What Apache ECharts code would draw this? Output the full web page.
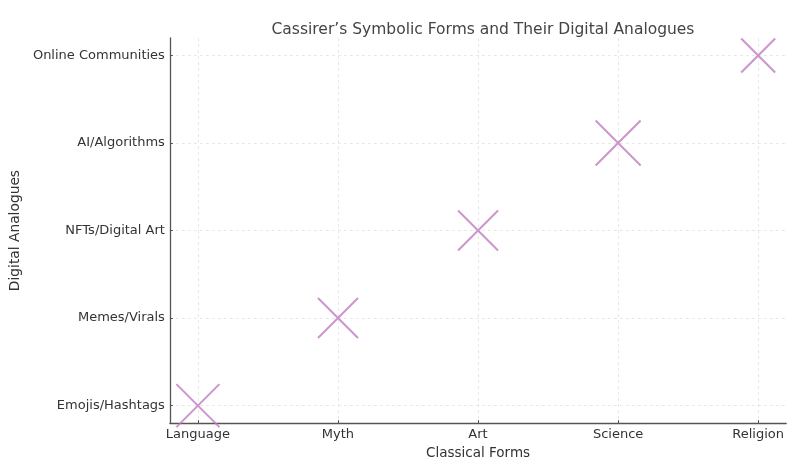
<!DOCTYPE html>
<html>
<head>
<meta charset="utf-8">
<script src="https://cdn.jsdelivr.net/npm/echarts@6/dist/echarts.min.js"></script>
<style>html,body{margin:0;padding:0;background:#fff;overflow:hidden;}#c{width:787px;height:465px;}</style>
</head>
<body>
<div id="c"></div>
<script>
const classicalForms = ['Language', 'Myth', 'Art', 'Science', 'Religion'];
const digitalAnalogues = ['Emojis/Hashtags', 'Memes/Virals', 'NFTs/Digital Art', 'AI/Algorithms', 'Online Communities'];
const xIndex = [0, 1, 2, 3, 4];
const yIndex = [0, 1, 2, 3, 4];
const markerSizes = [43, 40, 40, 45, 34];

const points = xIndex.map((x, i) => ({ value: [x, yIndex[i]], symbolSize: markerSizes[i] }));
const tickVals = [0, 1, 2, 3, 4];
const font = 'DejaVu Sans';
const chart = echarts.init(document.getElementById('c'), null, { renderer: 'canvas' });
chart.setOption({
  animation: false,
  backgroundColor: '#fff',
  title: {
    text: 'Cassirer\u2019s Symbolic Forms and Their Digital Analogues',
    left: 478, top: 17, textAlign: 'center',
    textStyle: { fontFamily: font, fontSize: 15.5, fontWeight: 'normal', color: '#444' }
  },
  grid: { left: 169, right: -1, top: 38, bottom: 35, containLabel: false },
  xAxis: {
    type: 'value', min: -0.2, max: 4.2,
    name: 'Classical Forms', nameLocation: 'middle', nameGap: 22,
    nameTextStyle: { fontFamily: font, fontSize: 13.5, color: '#333' },
    axisLine: { show: true, onZero: false, lineStyle: { color: '#555', width: 1.3 } },
    axisTick: { show: true, inside: true, length: 3, customValues: tickVals, lineStyle: { color: '#555' } },
    axisLabel: { customValues: tickVals, formatter: v => classicalForms[Math.round(v)], fontFamily: font, fontSize: 13, color: '#333', margin: 5 },
    splitLine: { show: true, lineStyle: { color: '#e2e2e2', type: [3, 3], width: 0.8 } }
  },
  yAxis: {
    type: 'value', min: -0.2, max: 4.2,
    name: 'Digital Analogues', nameLocation: 'middle', nameGap: 145, nameRotate: 90,
    nameTextStyle: { fontFamily: font, fontSize: 13.8, color: '#333' },
    axisLine: { show: true, onZero: false, lineStyle: { color: '#555', width: 1.3 } },
    axisTick: { show: true, inside: true, length: 3, customValues: tickVals, lineStyle: { color: '#555' } },
    axisLabel: { customValues: tickVals, formatter: v => digitalAnalogues[Math.round(v)], fontFamily: font, fontSize: 13, color: '#333', margin: 5 },
    splitLine: { show: true, lineStyle: { color: '#e2e2e2', type: [3, 3], width: 0.8 } }
  },
  series: [{
    type: 'scatter',
    clip: true,
    symbol: 'path://M0,0L10,10M10,0L0,10',
    data: points,
    itemStyle: { color: 'rgba(0,0,0,0)', borderColor: '#bf7abf', borderWidth: 2 }
  }]
});
</script>
</body>
</html>
